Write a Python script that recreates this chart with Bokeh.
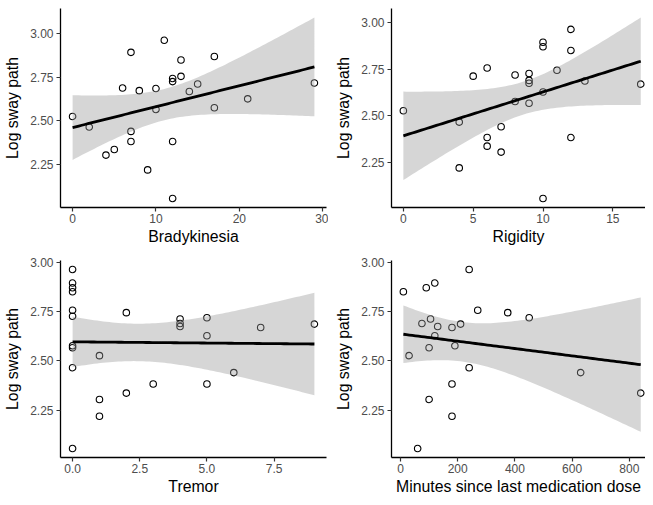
import numpy as np
from bokeh.plotting import figure
from bokeh.layouts import gridplot
from bokeh.models import FixedTicker, PrintfTickFormatter, Range1d
from bokeh.embed import file_html
from bokeh.resources import INLINE

# ---- data ----
log_sway = [2.963, 2.894, 2.870, 2.850, 2.756, 2.744, 2.726, 2.718, 2.712, 2.689,
            2.686, 2.674, 2.669, 2.627, 2.576, 2.566, 2.526, 2.465, 2.440, 2.382,
            2.382, 2.336, 2.304, 2.219, 2.055]
bradykinesia = [11, 7, 17, 13, 13, 12, 12, 29, 15, 6,
                10, 8, 14, 21, 17, 10, 0, 2, 7, 7,
                12, 5, 4, 9, 12]
rigidity = [12, 10, 10, 12, 6, 11, 9, 8, 5, 9,
            13, 9, 17, 10, 8, 9, 0, 4, 7, 6,
            12, 6, 7, 4, 10]
tremor = [0, 0, 0, 0, 0, 2, 0, 5, 4, 4,
          9, 4, 7, 5, 0, 0, 1, 0, 6, 3,
          5, 2, 1, 1, 0]
minutes = [240, 120, 90, 10, 270, 375, None, 450, 105, 75,
           210, 130, 180, 120, 190, 100, 30, 240, 630, 180,
           None, 840, 100, 180, 60]

y_ticks = [2.25, 2.50, 2.75, 3.00]
brady_ticks = [0, 10, 20, 30]
rigidity_ticks = [0, 5, 10, 15]
tremor_ticks = [0, 2.5, 5, 7.5]
minutes_ticks = [0, 200, 400, 600, 800]

T975 = {21: 2.0796, 22: 2.0739, 23: 2.0687}

FONT = "Liberation Sans"


def panel(xv, yv, xlabel, xticks, xfmt, width, height, mb_left, mb_right,
          mb_top, mb_bottom, right_pad=0.05):
    x = np.array([np.nan if v is None else v for v in xv], dtype=float)
    y = np.asarray(yv, dtype=float)
    m = ~np.isnan(x)
    x, y = x[m], y[m]
    n = len(x)
    b1, b0 = np.polyfit(x, y, 1)
    xs = np.linspace(x.min(), x.max(), 80)
    yhat = b0 + b1 * xs
    resid = y - (b0 + b1 * x)
    s = np.sqrt(resid @ resid / (n - 2))
    sxx = ((x - x.mean()) ** 2).sum()
    se = s * np.sqrt(1.0 / n + (xs - x.mean()) ** 2 / sxx)
    t = T975[n - 2]
    lo, hi = yhat - t * se, yhat + t * se

    ylo = min(y.min(), lo.min())
    yhi = max(y.max(), hi.max())
    ypad = 0.05 * (yhi - ylo)
    span = x.max() - x.min()
    x0 = x.min() - 0.05 * span
    x1 = x.max() + right_pad * span

    p = figure(width=width, height=height, output_backend="svg",
               toolbar_location=None, x_range=Range1d(x0, x1),
               y_range=Range1d(ylo - ypad, yhi + ypad),
               min_border_left=mb_left, min_border_right=mb_right,
               min_border_top=mb_top, min_border_bottom=mb_bottom)
    p.outline_line_color = None
    p.xgrid.visible = False
    p.ygrid.visible = False
    p.background_fill_color = "white"
    p.border_fill_color = "white"

    p.scatter(x, y, size=6.5, fill_color=None, line_color="black", line_width=1.1)
    p.varea(x=xs, y1=lo, y2=hi, fill_color="#999999", fill_alpha=0.4)
    p.line(xs, yhat, line_color="black", line_width=2.8)

    for ax in (p.xaxis[0], p.yaxis[0]):
        ax.axis_line_color = "black"
        ax.axis_line_width = 1.3
        ax.major_tick_line_color = "#333333"
        ax.major_tick_line_width = 1.2
        ax.major_tick_out = 4
        ax.major_tick_in = 0
        ax.minor_tick_line_color = None
        ax.major_label_text_font = FONT
        ax.major_label_text_font_size = "12px"
        ax.major_label_text_color = "#4D4D4D"
        ax.axis_label_text_font = FONT
        ax.axis_label_text_font_size = "15.8px"
        ax.axis_label_text_font_style = "normal"
        ax.axis_label_text_color = "black"

    p.xaxis.ticker = FixedTicker(ticks=xticks)
    p.xaxis.formatter = PrintfTickFormatter(format=xfmt)
    p.xaxis.axis_label = xlabel
    p.xaxis.major_label_standoff = 2
    p.xaxis.axis_label_standoff = 2

    p.yaxis.ticker = FixedTicker(ticks=y_ticks)
    p.yaxis.formatter = PrintfTickFormatter(format="%.2f")
    p.yaxis.axis_label = "Log sway path"
    p.yaxis.major_label_standoff = 3
    p.yaxis.axis_label_standoff = 6
    return p


p1 = panel(bradykinesia, log_sway, "Bradykinesia", brady_ticks, "%d",
           328, 252, 60, 2, 8, 45)
p2 = panel(rigidity, log_sway, "Rigidity", rigidity_ticks, "%d",
           317, 252, 63, 0, 8, 45, right_pad=0.02)
p3 = panel(tremor, log_sway, "Tremor", tremor_ticks, "%.1f",
           328, 245, 60, 2, 8, 40)
p4 = panel(minutes, log_sway, "Minutes since last medication dose", minutes_ticks, "%d",
           317, 245, 63, 0, 8, 40, right_pad=0.02)

grid = gridplot([[p1, p2], [p3, p4]], toolbar_location=None)

open("out.html", "w").write(file_html(grid, INLINE))
